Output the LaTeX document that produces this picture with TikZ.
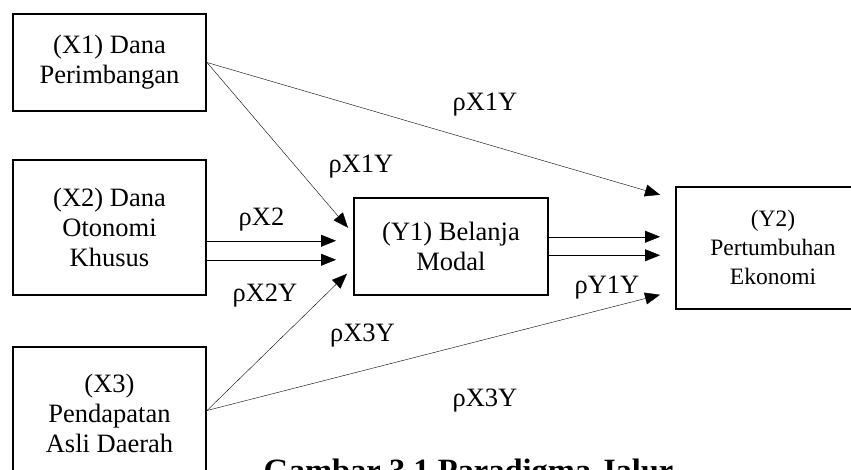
\documentclass[tikz,border=0pt]{standalone}
\usepackage{fontspec}
\setmainfont{Liberation Serif}
\usetikzlibrary{positioning, arrows.meta}
\tikzset{
->, % every path is an arrow
>={Triangle[length=15pt,width=12pt]}, % filled triangle heads
line width=0.9pt,
var/.style={draw, line width=2pt, inner sep=0pt, minimum width=193pt, align=center, font=\fontsize{26.5}{30}\selectfont}, % boxes of the variables
coef/.style={anchor=base, font=\fontsize{26.5}{30}\selectfont}, % path coefficients
caption/.style={anchor=base west, font=\bfseries\fontsize{32.5}{36}\selectfont},
}
\begin{document}
\begin{tikzpicture}[x=1pt, y=-1pt]
                \useasboundingbox (0,0) rectangle (851,469);
                \clip (0,0) rectangle (851,469);
                \node[var, minimum height=97pt] (x1) at (109.5,62.5) {(X1) Dana\\Perimbangan};
                \node[var, minimum height=134.5pt, below=47pt of x1] (x2) {(X2) Dana\\Otonomi\\Khusus};
                \node[var, minimum height=134pt, below=50pt of x2] (x3) {(X3)\\Pendapatan\\Asli Daerah};
                \node[var, minimum height=97pt, minimum width=194pt, right=146pt of x2, yshift=-19pt] (y1) {(Y1) Belanja\\Modal};
                \node[var, minimum height=122pt, minimum width=194pt, right=126pt of y1, yshift=-1.5pt, font=\fontsize{23.5}{29}\selectfont] (y2) {(Y2)\\Pertumbuhan\\Ekonomi};
                \draw (x1.east) -- ([xshift=-15pt, yshift=-9pt]y2.north west);
                \draw (x1.east) -- ([xshift=-5pt, yshift=18.5pt]y1.west);
                \draw ([yshift=-13.5pt]x2.east) -- ([xshift=-17pt, yshift=5.5pt]y1.west);
                \draw ([yshift=-32.5pt]x2.east) -- ([xshift=-17pt, yshift=-13.5pt]y1.west);
                \draw ([yshift=3pt]x3.east) -- ([xshift=-6pt, yshift=-27.5pt]y1.west);
                \draw ([yshift=3pt]x3.east) -- ([xshift=-15pt, yshift=-47pt]y2.west);
                \draw ([yshift=9.5pt]y1.east) -- ([xshift=-15pt, yshift=11pt]y2.west);
                \draw ([yshift=-9pt]y1.east) -- ([xshift=-15pt, yshift=-7.5pt]y2.west);
                \node[coef] (p1a) at (485,110) {ρX1Y};
                \node[coef] (p1b) at (361,172.5) {ρX1Y};
                \node[coef] (p2a) at (261.5,225) {ρX2};
                \node[coef] (p2b) at (265,301.5) {ρX2Y};
                \node[coef] (p3a) at (362.5,341.5) {ρX3Y};
                \node[coef] (p3b) at (485,406) {ρX3Y};
                \node[coef] (py) at (607,293) {ρY1Y};
                \node[caption] (cap) at (260,481.5) {Gambar 3.1 Paradigma Jalur};
                \end{tikzpicture}
\end{document}
